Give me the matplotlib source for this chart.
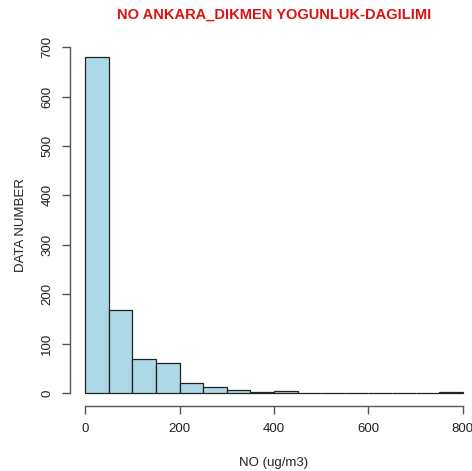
#Histogram NO Ankara Dikmen
import numpy as np
import matplotlib.pyplot as plt

#Data
bin_edges = [0, 50, 100, 150, 200, 250, 300, 350, 400, 450, 500, 550, 600, 650, 700, 750, 800]
counts = [680, 168, 69, 61, 21, 13, 6, 1, 4, 0, 0, 0, 0, 0, 0, 1]
x_ticks = [0, 200, 400, 600, 800]
y_ticks = [0, 100, 200, 300, 400, 500, 600, 700]

plt.rcParams['font.family'] = ['Liberation Sans', 'DejaVu Sans']

fig = plt.figure(figsize=(4.72, 4.71), dpi=100)
ax = fig.add_axes([0.1483, 0.1372, 0.8644, 0.770])

edges = np.array(bin_edges)
ax.bar(edges[:-1], counts, width=np.diff(edges), align='edge',
       color='#ADD8E6', edgecolor='#222222', linewidth=0.9)

#R style limits (4% extension)
xpad = 0.04 * (edges[-1] - edges[0])
ypad = 0.04 * max(counts)
ax.set_xlim(edges[0] - xpad, edges[-1] + xpad)
ax.set_ylim(-ypad, max(counts) + ypad)

for s in ['top', 'right']:
    ax.spines[s].set_visible(False)
ax.spines['left'].set_bounds(y_ticks[0], y_ticks[-1])
ax.spines['bottom'].set_bounds(x_ticks[0], x_ticks[-1])
for s in ['left', 'bottom']:
    ax.spines[s].set_color('#555555')
    ax.spines[s].set_linewidth(1.0)

ax.set_xticks(x_ticks)
ax.set_yticks(y_ticks)
ax.tick_params(colors='#555555', labelcolor='#222222', length=6, width=1.0, labelsize=9.5, pad=6)
for lab in ax.get_yticklabels():
    lab.set_rotation(90)
    lab.set_va('center')

ax.set_xlabel("NO (ug/m3)", fontsize=9.5, color='#222222', labelpad=16)
ax.set_ylabel("DATA NUMBER", fontsize=9.5, color='#222222', labelpad=10)
ax.set_title("NO ANKARA_DIKMEN YOGUNLUK-DAGILIMI", color='#DD1111',
             fontweight='bold', fontsize=10.5, pad=18)

fig.savefig('out.png', dpi=100)
